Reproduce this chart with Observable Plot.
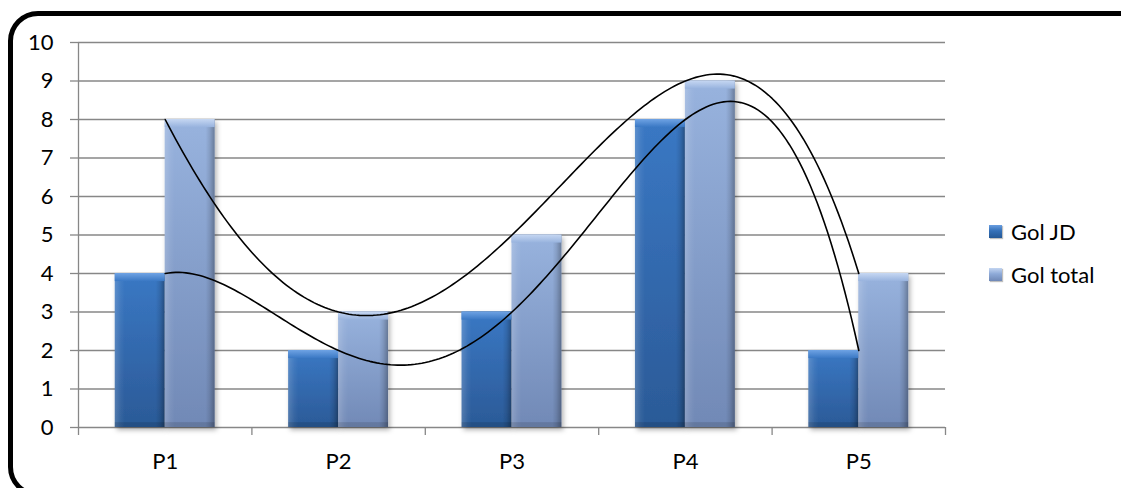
<!DOCTYPE html>
<html>
<head>
<meta charset="utf-8">
<script src="https://cdn.jsdelivr.net/npm/d3@7"></script>
<script src="https://cdn.jsdelivr.net/npm/@observablehq/plot@0.6"></script>
<style>
  html, body { margin: 0; padding: 0; background: #fff; }
  body { width: 1121px; height: 488px; overflow: hidden; position: relative; font-family: Lato, "Open Sans", sans-serif; }
  #frame { position: absolute; left: 8px; top: 11px; width: 1145px; height: 486px; border: 5px solid #000; border-radius: 30px; box-sizing: border-box; }
  #chart { position: absolute; left: 0; top: 0; }
  #legend { position: absolute; left: 989px; top: 210px; font-size: 22px; color: #000; }
  .item { display: flex; align-items: center; height: 43px; }
  .sw { width: 13px; height: 13px; margin-right: 9px; box-shadow: 1px 1px 1px rgba(0,0,0,0.25); }
</style>
</head>
<body>
<div id="frame"></div>
<div id="chart"></div>
<div id="legend"></div>
<script>
// Goals per period
const categories = ["P1", "P2", "P3", "P4", "P5"];
const golJD = [4, 2, 3, 8, 2];
const golTotal = [8, 3, 5, 9, 4];
const seriesNames = ["Gol JD", "Gol total"];
const yTicks = [0, 1, 2, 3, 4, 5, 6, 7, 8, 9, 10];

const seriesValues = [golJD, golTotal];
const fills = ["url(#barJD)", "url(#barTotal)"];
const swatches = [
  "linear-gradient(#6a9ee0, #3470b8 45%, #245896)",
  "linear-gradient(#c3d5f1, #8eaad8 45%, #6f88b6)"
];

// One row per bar; x is the period index (1..5)
const rows = categories.flatMap((c, i) =>
  seriesNames.map((s, k) => ({cat: c, i: i + 1, k, series: s, value: seriesValues[k][i]}))
);

// Polynomial trendline (degree n-1) through the points of a series
function polyTrend(values) {
  const xs = values.map((_, i) => i + 1);
  return (x) => d3.sum(values, (v, i) => {
    let p = v;
    xs.forEach((xj, j) => { if (j !== i) p *= (x - xj) / (xs[i] - xj); });
    return p;
  });
}
const trendX = d3.range(0, 201).map((j) => 1 + j * 4 / 200);
const trends = seriesValues.map((vals, k) => {
  const f = polyTrend(vals);
  return trendX.map((x) => ({x, y: f(x), k}));
});

const bw = 0.288;          // bar width in period units
const bevel = 0.21;        // bevel depth in value units
const x1 = (d) => d.k === 0 ? d.i - bw : d.i;
const x2 = (d) => d.k === 0 ? d.i : d.i + bw;
const grey = "#878787";

const chart = Plot.plot({
  width: 1121,
  height: 488,
  marginLeft: 78,
  marginRight: 176,
  marginTop: 42,
  marginBottom: 61,
  style: {fontFamily: "Lato, 'Open Sans', sans-serif", fontSize: "22px", background: "transparent", color: "#000"},
  x: {domain: [0.5, 5.5]},
  y: {domain: [0, 10]},
  marks: [
    Plot.gridY(yTicks, {stroke: grey, strokeOpacity: 1, strokeWidth: 1.3}),
    Plot.ruleX([0.5], {y1: 0, y2: 10, stroke: grey, strokeWidth: 1.3}),
    Plot.axisY({ticks: yTicks, tickSize: 8, tickPadding: 17, stroke: grey, fill: "#000", strokeWidth: 1.3, label: null}),
    Plot.axisX({ticks: d3.range(0.5, 6, 1), tickSize: 8, tickFormat: () => "", stroke: grey, strokeWidth: 1.3, label: null}),
    Plot.axisX({ticks: [1, 2, 3, 4, 5], tickSize: 0, tickPadding: 26, tickFormat: (i) => categories[i - 1], fill: "#000", label: null}),
    // bar bodies
    ...[0, 1].map((k) => Plot.rect(rows.filter((d) => d.k === k), {x1, x2, y1: 0, y2: "value", fill: fills[k]})),
    // side shading
    Plot.rect(rows, {x1, x2, y1: 0, y2: "value", fill: "url(#barSides)"}),
    // top bevel
    ...[0, 1].map((k) => Plot.rect(rows.filter((d) => d.k === k), {x1, x2, y1: (d) => d.value - bevel, y2: "value", fill: k === 0 ? "url(#topJD)" : "url(#topTotal)"})),
    // bottom bevel
    Plot.rect(rows, {x1, x2, y1: 0, y2: bevel * 0.6, fill: "rgba(0,0,0,0.12)"}),
    // trendlines
    ...trends.map((t) => Plot.line(t, {x: "x", y: "y", stroke: "#000", strokeWidth: 1.6}))
  ]
});

// gradients and shadow used by the bars
const svg = d3.select(chart);
const defs = svg.insert("defs", ":first-child");
function vGrad(id, stops) {
  const g = defs.append("linearGradient").attr("id", id).attr("x1", 0).attr("y1", 0).attr("x2", 0).attr("y2", 1);
  stops.forEach(([o, c]) => g.append("stop").attr("offset", o).attr("stop-color", c));
}
function hGrad(id, stops) {
  const g = defs.append("linearGradient").attr("id", id).attr("x1", 0).attr("y1", 0).attr("x2", 1).attr("y2", 0);
  stops.forEach(([o, c, a]) => g.append("stop").attr("offset", o).attr("stop-color", c).attr("stop-opacity", a));
}
vGrad("barJD", [[0, "#3a78c4"], [1, "#2b5a97"]]);
vGrad("barTotal", [[0, "#98b3de"], [1, "#7189b6"]]);
vGrad("topJD", [[0, "#6fa3e4"], [1, "#3a78c4"]]);
vGrad("topTotal", [[0, "#c6d7f2"], [1, "#98b3de"]]);
hGrad("barSides", [[0, "#ffffff", 0.18], [0.12, "#ffffff", 0.05], [0.2, "#ffffff", 0], [0.82, "#000000", 0], [0.9, "#000000", 0.1], [1, "#000000", 0.3]]);
const flt = defs.append("filter").attr("id", "barShadow").attr("x", "-20%").attr("y", "-20%").attr("width", "150%").attr("height", "140%");
flt.append("feDropShadow").attr("dx", 2).attr("dy", 3).attr("stdDeviation", 2.5).attr("flood-color", "#000").attr("flood-opacity", 0.3);
svg.selectAll('g[aria-label="rect"]').filter((_, i) => i < 2).attr("filter", "url(#barShadow)");

document.getElementById("chart").appendChild(chart);

// legend
const legend = d3.select("#legend");
seriesNames.forEach((name, k) => {
  const item = legend.append("div").attr("class", "item");
  item.append("div").attr("class", "sw").style("background", swatches[k]);
  item.append("span").text(name);
});
</script>
</body>
</html>
